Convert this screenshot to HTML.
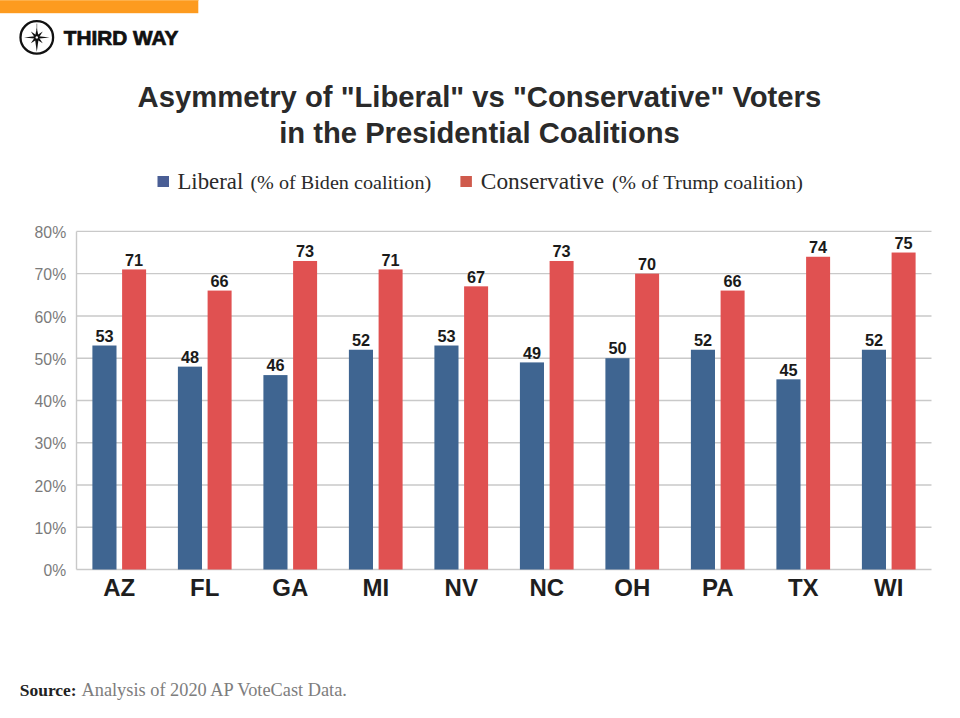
<!DOCTYPE html><html><head><meta charset="utf-8"><style>html,body{margin:0;padding:0;background:#fff;width:960px;height:718px;overflow:hidden}svg{display:block}</style></head><body>
<svg width="960" height="718" viewBox="0 0 960 718">
<rect x="0" y="0" width="960" height="718" fill="#fff"/>
<rect x="0" y="0" width="198.3" height="13.2" fill="#fd9b1f"/><rect x="0" y="0" width="198.3" height="1" fill="#fdb04a"/>
<circle cx="36.8" cy="37.4" r="16.3" fill="none" stroke="#111" stroke-width="2.3"/>
<line x1="36.8" y1="23.6" x2="36.8" y2="30" stroke="#888" stroke-width="0.9"/>
<path d="M38.80,37.40 L36.80,28.00 L34.80,37.40 Z" fill="#111"/>
<path d="M34.80,37.40 L36.80,51.90 L38.80,37.40 Z" fill="#111"/>
<path d="M36.80,36.10 L24.00,37.40 L36.80,38.70 Z" fill="#111"/>
<path d="M36.80,38.70 L49.50,37.40 L36.80,36.10 Z" fill="#111"/>
<path d="M35.53,38.67 L42.74,43.34 L38.07,36.13 Z" fill="#111"/>
<path d="M38.07,38.67 L42.74,31.46 L35.53,36.13 Z" fill="#111"/>
<path d="M35.53,36.13 L30.86,43.34 L38.07,38.67 Z" fill="#111"/>
<path d="M38.07,36.13 L30.86,31.46 L35.53,38.67 Z" fill="#111"/>
<circle cx="36.8" cy="37.4" r="1.2" fill="#fff"/>
<text x="63.8" y="44.5" font-family="Liberation Sans, sans-serif" font-weight="bold" font-size="19.5" fill="#111" stroke="#111" stroke-width="0.7" textLength="114.6" lengthAdjust="spacingAndGlyphs">THIRD WAY</text>
<text x="137.6" y="106.7" font-family="Liberation Sans, sans-serif" font-weight="bold" font-size="30" fill="#2a2a2a" textLength="683.6" lengthAdjust="spacingAndGlyphs">Asymmetry of "Liberal" vs "Conservative" Voters</text>
<text x="279.2" y="142.7" font-family="Liberation Sans, sans-serif" font-weight="bold" font-size="30" fill="#2a2a2a" textLength="400.6" lengthAdjust="spacingAndGlyphs">in the Presidential Coalitions</text>
<rect x="157.5" y="176" width="11.5" height="11" fill="#4a5e95"/>
<text x="177.4" y="188.7" font-family="Liberation Serif, serif" font-size="23" fill="#2a2a2a" textLength="65.9" lengthAdjust="spacingAndGlyphs">Liberal</text>
<text x="250.4" y="188.7" font-family="Liberation Serif, serif" font-size="19.5" fill="#2a2a2a" textLength="180.8" lengthAdjust="spacingAndGlyphs">(% of Biden coalition)</text>
<rect x="460.4" y="176" width="11.5" height="11" fill="#cf5a4c"/>
<text x="480.8" y="188.7" font-family="Liberation Serif, serif" font-size="23" fill="#2a2a2a" textLength="123.4" lengthAdjust="spacingAndGlyphs">Conservative</text>
<text x="612" y="188.7" font-family="Liberation Serif, serif" font-size="19.5" fill="#2a2a2a" textLength="190.9" lengthAdjust="spacingAndGlyphs">(% of Trump coalition)</text>
<line x1="76.5" y1="231.40" x2="931.5" y2="231.40" stroke="#c9c9c9" stroke-width="1.4"/>
<text x="34.60" y="238.00" font-family="Liberation Sans, sans-serif" font-size="16" fill="#7b7b7b" textLength="31.6" lengthAdjust="spacingAndGlyphs">80%</text>
<line x1="76.5" y1="273.66" x2="931.5" y2="273.66" stroke="#c9c9c9" stroke-width="1.4"/>
<text x="34.60" y="280.26" font-family="Liberation Sans, sans-serif" font-size="16" fill="#7b7b7b" textLength="31.6" lengthAdjust="spacingAndGlyphs">70%</text>
<line x1="76.5" y1="315.93" x2="931.5" y2="315.93" stroke="#c9c9c9" stroke-width="1.4"/>
<text x="34.60" y="322.53" font-family="Liberation Sans, sans-serif" font-size="16" fill="#7b7b7b" textLength="31.6" lengthAdjust="spacingAndGlyphs">60%</text>
<line x1="76.5" y1="358.19" x2="931.5" y2="358.19" stroke="#c9c9c9" stroke-width="1.4"/>
<text x="34.60" y="364.79" font-family="Liberation Sans, sans-serif" font-size="16" fill="#7b7b7b" textLength="31.6" lengthAdjust="spacingAndGlyphs">50%</text>
<line x1="76.5" y1="400.45" x2="931.5" y2="400.45" stroke="#c9c9c9" stroke-width="1.4"/>
<text x="34.60" y="407.05" font-family="Liberation Sans, sans-serif" font-size="16" fill="#7b7b7b" textLength="31.6" lengthAdjust="spacingAndGlyphs">40%</text>
<line x1="76.5" y1="442.71" x2="931.5" y2="442.71" stroke="#c9c9c9" stroke-width="1.4"/>
<text x="34.60" y="449.31" font-family="Liberation Sans, sans-serif" font-size="16" fill="#7b7b7b" textLength="31.6" lengthAdjust="spacingAndGlyphs">30%</text>
<line x1="76.5" y1="484.98" x2="931.5" y2="484.98" stroke="#c9c9c9" stroke-width="1.4"/>
<text x="34.60" y="491.58" font-family="Liberation Sans, sans-serif" font-size="16" fill="#7b7b7b" textLength="31.6" lengthAdjust="spacingAndGlyphs">20%</text>
<line x1="76.5" y1="527.24" x2="931.5" y2="527.24" stroke="#c9c9c9" stroke-width="1.4"/>
<text x="34.60" y="533.84" font-family="Liberation Sans, sans-serif" font-size="16" fill="#7b7b7b" textLength="31.6" lengthAdjust="spacingAndGlyphs">10%</text>
<line x1="76.5" y1="569.50" x2="931.5" y2="569.50" stroke="#c9c9c9" stroke-width="1.4"/>
<text x="43.60" y="576.10" font-family="Liberation Sans, sans-serif" font-size="16" fill="#7b7b7b" textLength="22.6" lengthAdjust="spacingAndGlyphs">0%</text>
<line x1="76.5" y1="231.4" x2="76.5" y2="569.5" stroke="#c9c9c9" stroke-width="1.4"/>
<rect x="92.40" y="345.51" width="24.1" height="223.99" fill="#3f6591"/>
<rect x="122.10" y="269.44" width="24.0" height="300.06" fill="#e05151"/>
<text x="104.45" y="341.71" text-anchor="middle" font-family="Liberation Sans, sans-serif" font-weight="bold" font-size="16.3" fill="#1a1a1a">53</text>
<text x="134.10" y="265.84" text-anchor="middle" font-family="Liberation Sans, sans-serif" font-weight="bold" font-size="16.3" fill="#1a1a1a">71</text>
<text x="119.25" y="596.3" text-anchor="middle" font-family="Liberation Sans, sans-serif" font-weight="bold" font-size="24" fill="#1e1e1e">AZ</text>
<rect x="177.90" y="366.64" width="24.1" height="202.86" fill="#3f6591"/>
<rect x="207.60" y="290.57" width="24.0" height="278.93" fill="#e05151"/>
<text x="189.95" y="362.84" text-anchor="middle" font-family="Liberation Sans, sans-serif" font-weight="bold" font-size="16.3" fill="#1a1a1a">48</text>
<text x="219.60" y="286.97" text-anchor="middle" font-family="Liberation Sans, sans-serif" font-weight="bold" font-size="16.3" fill="#1a1a1a">66</text>
<text x="204.75" y="596.3" text-anchor="middle" font-family="Liberation Sans, sans-serif" font-weight="bold" font-size="24" fill="#1e1e1e">FL</text>
<rect x="263.40" y="375.09" width="24.1" height="194.41" fill="#3f6591"/>
<rect x="293.10" y="260.98" width="24.0" height="308.52" fill="#e05151"/>
<text x="275.45" y="371.29" text-anchor="middle" font-family="Liberation Sans, sans-serif" font-weight="bold" font-size="16.3" fill="#1a1a1a">46</text>
<text x="305.10" y="257.38" text-anchor="middle" font-family="Liberation Sans, sans-serif" font-weight="bold" font-size="16.3" fill="#1a1a1a">73</text>
<text x="290.25" y="596.3" text-anchor="middle" font-family="Liberation Sans, sans-serif" font-weight="bold" font-size="24" fill="#1e1e1e">GA</text>
<rect x="348.90" y="349.74" width="24.1" height="219.76" fill="#3f6591"/>
<rect x="378.60" y="269.44" width="24.0" height="300.06" fill="#e05151"/>
<text x="360.95" y="345.94" text-anchor="middle" font-family="Liberation Sans, sans-serif" font-weight="bold" font-size="16.3" fill="#1a1a1a">52</text>
<text x="390.60" y="265.84" text-anchor="middle" font-family="Liberation Sans, sans-serif" font-weight="bold" font-size="16.3" fill="#1a1a1a">71</text>
<text x="375.75" y="596.3" text-anchor="middle" font-family="Liberation Sans, sans-serif" font-weight="bold" font-size="24" fill="#1e1e1e">MI</text>
<rect x="434.40" y="345.51" width="24.1" height="223.99" fill="#3f6591"/>
<rect x="464.10" y="286.34" width="24.0" height="283.16" fill="#e05151"/>
<text x="446.45" y="341.71" text-anchor="middle" font-family="Liberation Sans, sans-serif" font-weight="bold" font-size="16.3" fill="#1a1a1a">53</text>
<text x="476.10" y="282.74" text-anchor="middle" font-family="Liberation Sans, sans-serif" font-weight="bold" font-size="16.3" fill="#1a1a1a">67</text>
<text x="461.25" y="596.3" text-anchor="middle" font-family="Liberation Sans, sans-serif" font-weight="bold" font-size="24" fill="#1e1e1e">NV</text>
<rect x="519.90" y="362.41" width="24.1" height="207.09" fill="#3f6591"/>
<rect x="549.60" y="260.98" width="24.0" height="308.52" fill="#e05151"/>
<text x="531.95" y="358.61" text-anchor="middle" font-family="Liberation Sans, sans-serif" font-weight="bold" font-size="16.3" fill="#1a1a1a">49</text>
<text x="561.60" y="257.38" text-anchor="middle" font-family="Liberation Sans, sans-serif" font-weight="bold" font-size="16.3" fill="#1a1a1a">73</text>
<text x="546.75" y="596.3" text-anchor="middle" font-family="Liberation Sans, sans-serif" font-weight="bold" font-size="24" fill="#1e1e1e">NC</text>
<rect x="605.40" y="358.19" width="24.1" height="211.31" fill="#3f6591"/>
<rect x="635.10" y="273.66" width="24.0" height="295.84" fill="#e05151"/>
<text x="617.45" y="354.39" text-anchor="middle" font-family="Liberation Sans, sans-serif" font-weight="bold" font-size="16.3" fill="#1a1a1a">50</text>
<text x="647.10" y="270.06" text-anchor="middle" font-family="Liberation Sans, sans-serif" font-weight="bold" font-size="16.3" fill="#1a1a1a">70</text>
<text x="632.25" y="596.3" text-anchor="middle" font-family="Liberation Sans, sans-serif" font-weight="bold" font-size="24" fill="#1e1e1e">OH</text>
<rect x="690.90" y="349.74" width="24.1" height="219.76" fill="#3f6591"/>
<rect x="720.60" y="290.57" width="24.0" height="278.93" fill="#e05151"/>
<text x="702.95" y="345.94" text-anchor="middle" font-family="Liberation Sans, sans-serif" font-weight="bold" font-size="16.3" fill="#1a1a1a">52</text>
<text x="732.60" y="286.97" text-anchor="middle" font-family="Liberation Sans, sans-serif" font-weight="bold" font-size="16.3" fill="#1a1a1a">66</text>
<text x="717.75" y="596.3" text-anchor="middle" font-family="Liberation Sans, sans-serif" font-weight="bold" font-size="24" fill="#1e1e1e">PA</text>
<rect x="776.40" y="379.32" width="24.1" height="190.18" fill="#3f6591"/>
<rect x="806.10" y="256.76" width="24.0" height="312.74" fill="#e05151"/>
<text x="788.45" y="375.52" text-anchor="middle" font-family="Liberation Sans, sans-serif" font-weight="bold" font-size="16.3" fill="#1a1a1a">45</text>
<text x="818.10" y="253.16" text-anchor="middle" font-family="Liberation Sans, sans-serif" font-weight="bold" font-size="16.3" fill="#1a1a1a">74</text>
<text x="803.25" y="596.3" text-anchor="middle" font-family="Liberation Sans, sans-serif" font-weight="bold" font-size="24" fill="#1e1e1e">TX</text>
<rect x="861.90" y="349.74" width="24.1" height="219.76" fill="#3f6591"/>
<rect x="891.60" y="252.53" width="24.0" height="316.97" fill="#e05151"/>
<text x="873.95" y="345.94" text-anchor="middle" font-family="Liberation Sans, sans-serif" font-weight="bold" font-size="16.3" fill="#1a1a1a">52</text>
<text x="903.60" y="248.93" text-anchor="middle" font-family="Liberation Sans, sans-serif" font-weight="bold" font-size="16.3" fill="#1a1a1a">75</text>
<text x="888.75" y="596.3" text-anchor="middle" font-family="Liberation Sans, sans-serif" font-weight="bold" font-size="24" fill="#1e1e1e">WI</text>
<text x="19.8" y="695.8" font-family="Liberation Serif, serif" font-weight="bold" font-size="17" fill="#222" textLength="56.8" lengthAdjust="spacingAndGlyphs">Source:</text>
<text x="81.5" y="695.8" font-family="Liberation Serif, serif" font-size="18.3" fill="#7d7d7d" textLength="265.4" lengthAdjust="spacingAndGlyphs">Analysis of 2020 AP VoteCast Data.</text>
</svg></body></html>
